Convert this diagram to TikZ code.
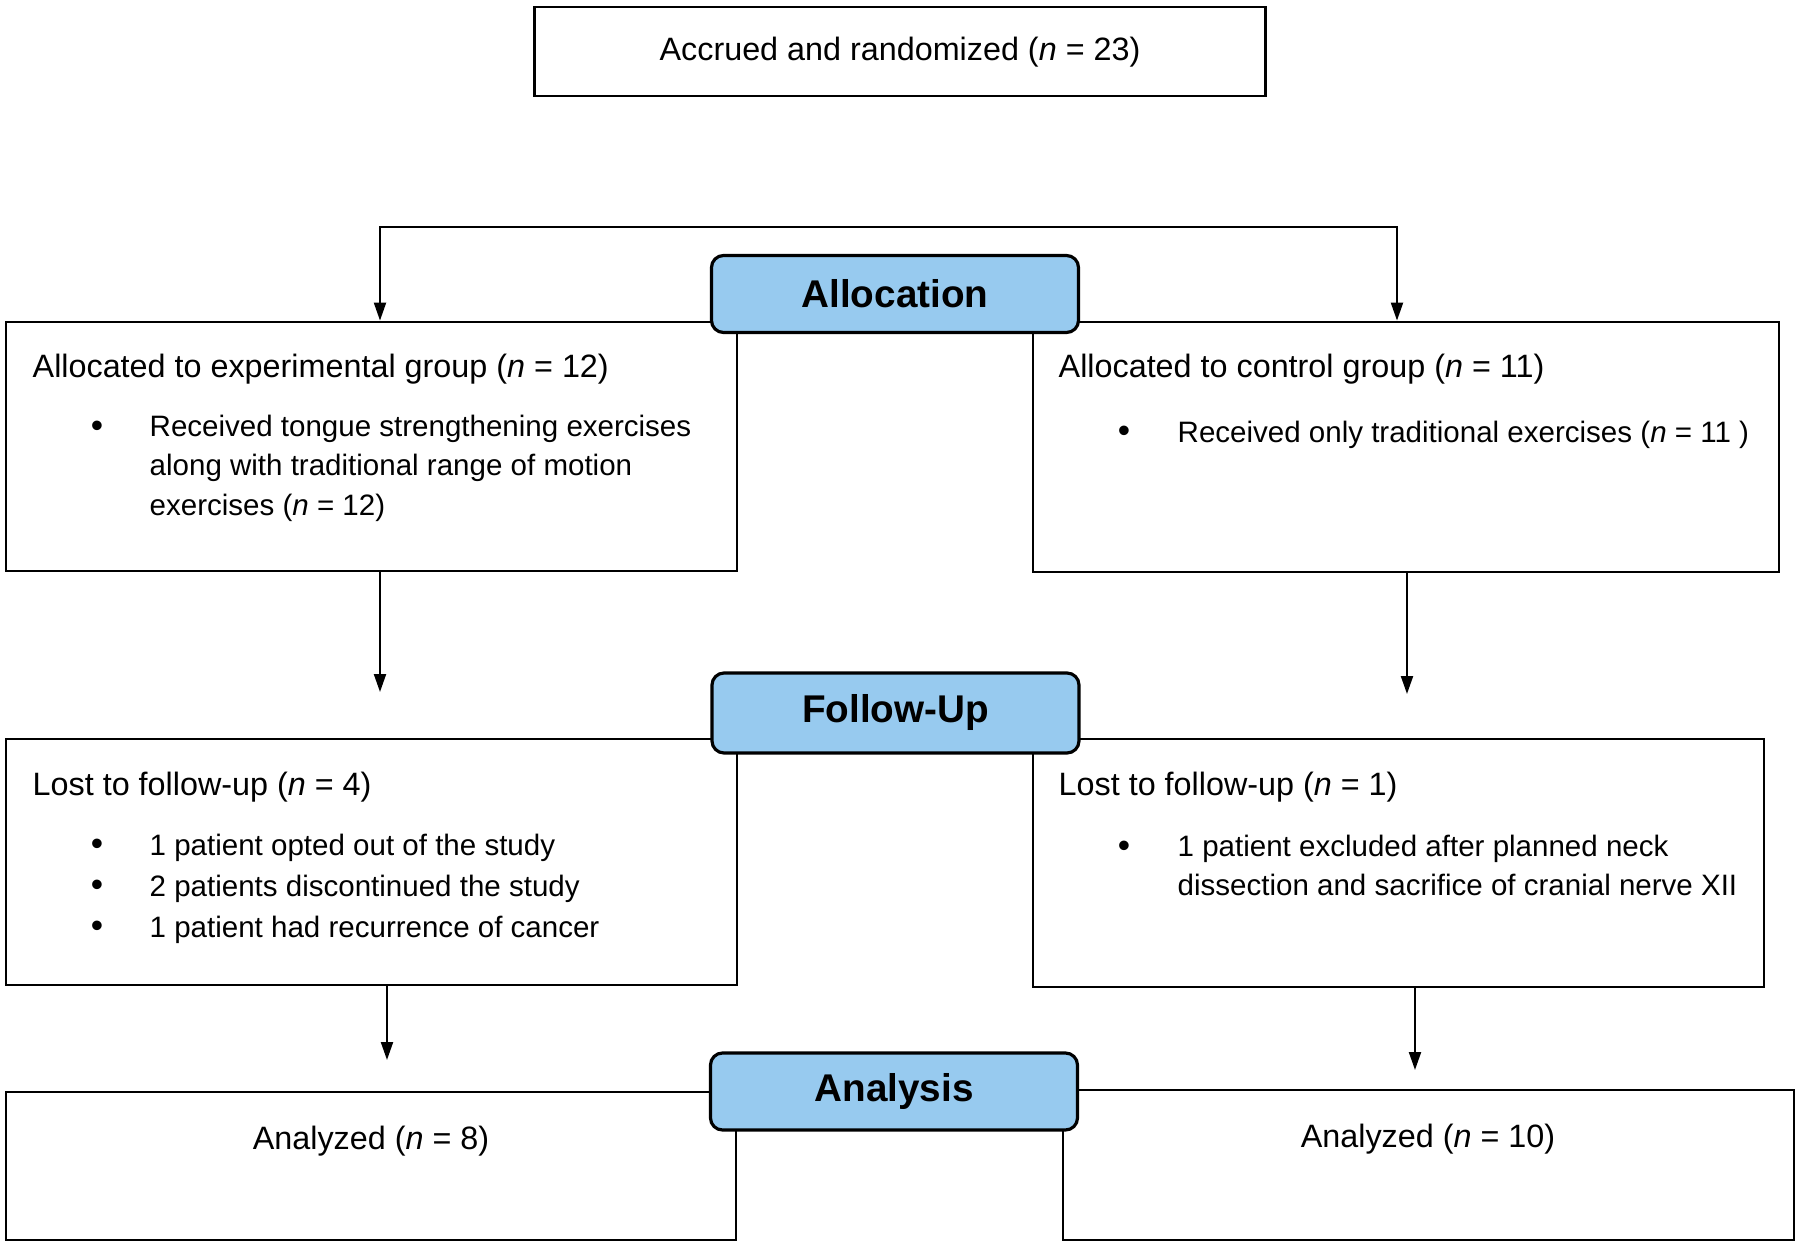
\documentclass[tikz,border=0pt]{standalone}
\usepackage{fontspec}
\setmainfont{Liberation Sans}
\usepackage{xcolor}
\usepackage{tikz}
\usetikzlibrary{positioning}
\usetikzlibrary{arrows.meta}
\definecolor{stageblue}{RGB}{151,202,239}

\begin{document}
\begin{tikzpicture}[x=1cm, y=-1cm, font=\fontsize{9.2}{11.3}\selectfont,
  box/.style={draw, line width=0.8pt, inner sep=0pt},
  stage/.style={draw, line width=0.9pt, fill=stageblue, rounded corners=1.2mm,
    inner sep=0pt, minimum width=3.67cm, minimum height=0.77cm,
    font=\fontsize{11}{13}\selectfont\bfseries},
  txt/.style={anchor=base west, inner sep=0pt, align=left},
  item/.style={txt, font=\fontsize{8.4}{11.1}\selectfont},
  bul/.style={anchor=base, inner sep=0pt, font=\fontsize{10}{11}\selectfont},
  arr/.style={line width=0.6pt, -{Triangle[length=1.8mm, width=1.2mm]}}]
  \useasboundingbox (0,0) rectangle (18,12.47);

  % boxes
  \node (rand) [box, minimum width=7.31cm, minimum height=0.89cm] at (9.00,0.515) {};
  \node (expbox) [box, minimum width=7.31cm, minimum height=2.49cm] at (3.715,4.465) {};
  \node (ctlbox) [box, minimum width=7.46cm, minimum height=2.50cm] at (14.06,4.47) {};
  \node (explost) [box, minimum width=7.31cm, minimum height=2.46cm] at (3.715,8.62) {};
  \node (ctllost) [box, minimum width=7.31cm, minimum height=2.48cm] at (13.985,8.63) {};
  \node (expana) [box, minimum width=7.30cm, minimum height=1.48cm] at (3.71,11.66) {};
  \node (ctlana) [box, minimum width=7.31cm, minimum height=1.50cm] at (14.285,11.65) {};

  % stage labels
  \node (alloc) [stage] at (8.95,2.94) {Allocation};
  \node (follow) [stage, minimum height=0.80cm] at (8.955,7.13) {Follow-Up};
  \node (analysis) [stage] at (8.94,10.915) {Analysis};

  % texts
  \node (randtxt) [anchor=base, inner sep=0pt] at (9.00,0.60) {Accrued and randomized (\textit{n} = 23)};

  \node (exphead) [txt] at (0.32,3.77) {Allocated to experimental group (\textit{n} = 12)};
  \node (expdot) [bul] at (0.97,4.37) {\textbullet};
  \node (expitem) [item] at (1.49,5.15) {Received tongue strengthening exercises\\
    along with traditional range of motion\\exercises (\textit{n} = 12)};

  \node (ctlhead) [txt] at (10.58,3.77) {Allocated to control group (\textit{n} = 11)};
  \node (ctldot) [bul] at (11.24,4.42) {\textbullet};
  \node (ctlitem) [item] at (11.77,4.42) {Received only traditional exercises (\textit{n} = 11 )};

  \node (explosthead) [txt] at (0.32,7.95) {Lost to follow-up (\textit{n} = 4)};
  \node (explostdot1) [bul] at (0.97,8.55) {\textbullet};
  \node (explostdot2) [bul] at (0.97,8.96) {\textbullet};
  \node (explostdot3) [bul] at (0.97,9.37) {\textbullet};
  \node (explostitem) [item, font=\fontsize{8.4}{11.6}\selectfont] at (1.49,9.37)
    {1 patient opted out of the study\\2 patients discontinued the study\\
     1 patient had recurrence of cancer};

  \node (ctllosthead) [txt] at (10.58,7.95) {Lost to follow-up (\textit{n} = 1)};
  \node (ctllostdot) [bul] at (11.24,8.57) {\textbullet};
  \node (ctllostitem) [item] at (11.77,8.955) {1 patient excluded after planned neck\\
    dissection and sacrifice of cranial nerve XII};

  \node (expanatxt) [anchor=base, inner sep=0pt] at (3.71,11.49) {Analyzed (\textit{n} = 8)};
  \node (ctlanatxt) [anchor=base, inner sep=0pt] at (14.28,11.47) {Analyzed (\textit{n} = 10)};

  % connectors
  \coordinate (splitL) at (3.80,2.27);
  \coordinate (splitR) at (13.97,2.27);
  \draw[line width=0.6pt, {Triangle[length=1.8mm, width=1.2mm]}-{Triangle[length=1.8mm, width=1.2mm]}]
    (expbox.north -| splitL) -- (splitL) -- (splitR) -- (ctlbox.north -| splitR);

  \coordinate (expgap) at (3.80,6.92);
  \coordinate (ctlgap) at (14.07,6.94);
  \draw[arr] (expbox.south -| expgap) -- (expgap);
  \draw[arr] (ctlbox.south -| ctlgap) -- (ctlgap);

  \coordinate (explostgap) at (3.87,10.60);
  \coordinate (ctllostgap) at (14.15,10.70);
  \draw[arr] (explost.south -| explostgap) -- (explostgap);
  \draw[arr] (ctllost.south -| ctllostgap) -- (ctllostgap);
\end{tikzpicture}
\end{document}
